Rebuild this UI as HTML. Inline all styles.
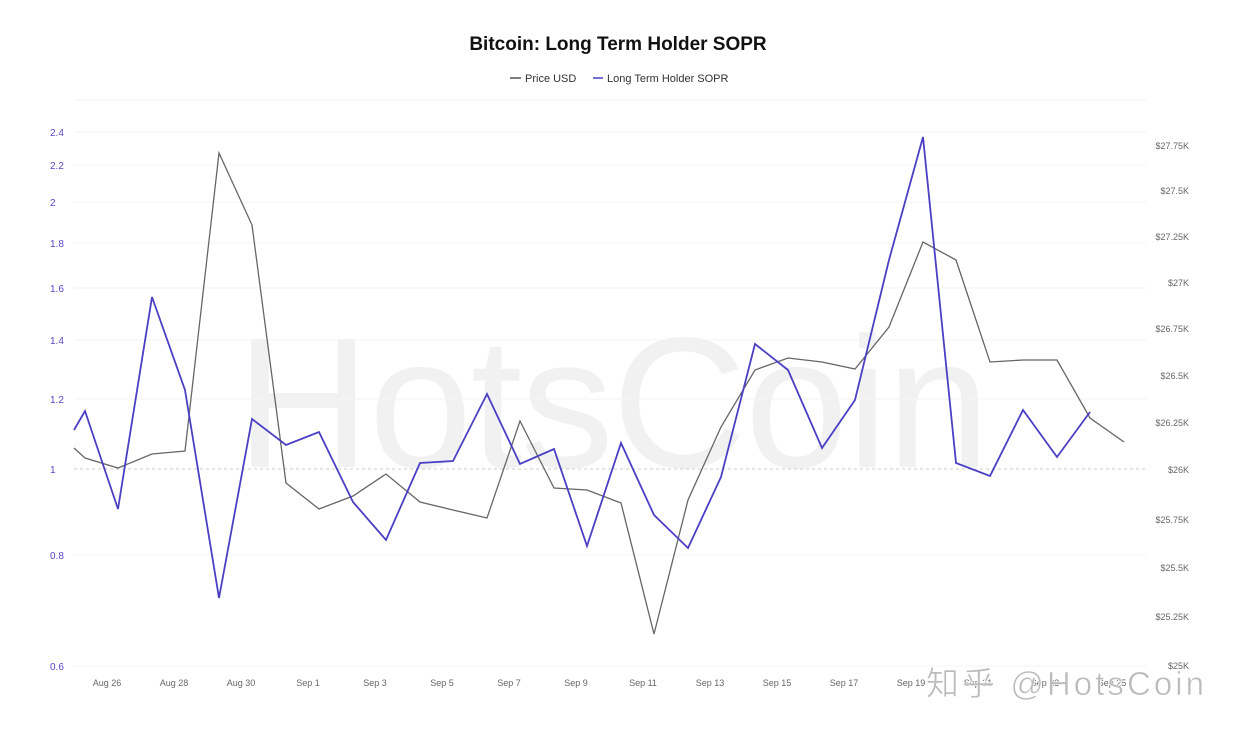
<!DOCTYPE html>
<html><head><meta charset="utf-8"><style>
html,body{margin:0;padding:0;background:#fff;}
svg{display:block;font-family:"Liberation Sans",Arial,sans-serif;}
</style></head><body>
<svg width="1237" height="730" viewBox="0 0 1237 730">
<rect width="1237" height="730" fill="#fff"/>
<text x="236" y="467" font-size="186" fill="#f1f1f1" textLength="754">HotsCoin</text>
<text x="618" y="50" font-size="19" font-weight="bold" text-anchor="middle" fill="#111">Bitcoin: Long Term Holder SOPR</text>
<line x1="510" y1="78" x2="521" y2="78" stroke="#555" stroke-width="1.5"/>
<text x="525" y="82" font-size="11" fill="#333">Price USD</text>
<line x1="593" y1="78" x2="603" y2="78" stroke="#4b3fc4" stroke-width="1.5"/>
<text x="607" y="82" font-size="11" fill="#333">Long Term Holder SOPR</text>
<g stroke="#f3f3f3" stroke-width="1">
<line x1="74" y1="100" x2="1147" y2="100"/>
<line x1="74" y1="132" x2="1147" y2="132"/><line x1="74" y1="165" x2="1147" y2="165"/>
<line x1="74" y1="202" x2="1147" y2="202"/><line x1="74" y1="243" x2="1147" y2="243"/>
<line x1="74" y1="288" x2="1147" y2="288"/><line x1="74" y1="340" x2="1147" y2="340"/>
<line x1="74" y1="399" x2="1147" y2="399"/><line x1="74" y1="555" x2="1147" y2="555"/>
<line x1="74" y1="666" x2="1147" y2="666"/>
</g>
<line x1="74" y1="469" x2="1147" y2="469" stroke="#ccc" stroke-dasharray="3,3"/>
<g font-size="10" fill="#5548c8">
<text x="50" y="136">2.4</text><text x="50" y="169">2.2</text><text x="50" y="206">2</text>
<text x="50" y="247">1.8</text><text x="50" y="292">1.6</text><text x="50" y="344">1.4</text>
<text x="50" y="403">1.2</text><text x="50" y="473">1</text><text x="50" y="559">0.8</text>
<text x="50" y="670">0.6</text>
</g>
<g font-size="9" fill="#666" text-anchor="end">
<text x="1189" y="149">$27.75K</text><text x="1189" y="194">$27.5K</text><text x="1189" y="240">$27.25K</text>
<text x="1189" y="286">$27K</text><text x="1189" y="332">$26.75K</text><text x="1189" y="379">$26.5K</text>
<text x="1189" y="426">$26.25K</text><text x="1189" y="473">$26K</text><text x="1189" y="523">$25.75K</text>
<text x="1189" y="571">$25.5K</text><text x="1189" y="620">$25.25K</text><text x="1189" y="669">$25K</text>
</g>
<g font-size="9" fill="#666" text-anchor="middle">
<text x="107" y="686">Aug 26</text><text x="174" y="686">Aug 28</text><text x="241" y="686">Aug 30</text>
<text x="308" y="686">Sep 1</text><text x="375" y="686">Sep 3</text><text x="442" y="686">Sep 5</text>
<text x="509" y="686">Sep 7</text><text x="576" y="686">Sep 9</text><text x="643" y="686">Sep 11</text>
<text x="710" y="686">Sep 13</text><text x="777" y="686">Sep 15</text><text x="844" y="686">Sep 17</text>
<text x="911" y="686">Sep 19</text><text x="978" y="686">Sep 21</text><text x="1045" y="686">Sep 23</text>
<text x="1112" y="686">Sep 25</text>
</g>
<polyline fill="none" stroke="#666" stroke-width="1.3" points="74,448 85,458 118,468 152,454 185,451 219,153 252,225 286,483 319,509 353,496 386,474 420,502 453,510 487,518 520,421 554,488 587,490 621,503 654,634 688,500 721,427 755,370 788,358 822,362 855,369 889,327 923,242 956,260 990,362 1023,360 1057,360 1090,418 1124,442"/>
<polyline fill="none" stroke="#4b3fc4" stroke-width="1.8" points="74,430 85,411 118,509 152,297 185,390 219,598 252,419 286,445 319,432 353,502 386,540 420,463 453,461 487,394 520,464 554,449 587,546 621,443 654,515 688,548 721,477 755,344 788,370 822,448 855,400 889,260 923,137 956,463 990,476 1023,410 1057,457 1090,412"/>
<text x="926" y="695" font-size="33" fill="#bbb" stroke="#fff" stroke-width="0.6" textLength="278" font-family="'Liberation Sans','Noto Sans CJK SC',sans-serif">知乎 @HotsCoin</text>
</svg>
</body></html>
